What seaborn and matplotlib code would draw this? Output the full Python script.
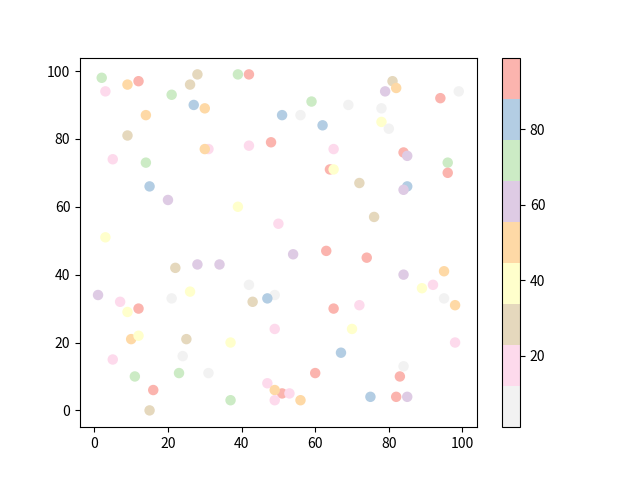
import matplotlib
matplotlib.use("Agg")
import matplotlib as mpl
import matplotlib.pyplot as plt
import seaborn as sns
import pandas as pd

# colour values per band of the reversed Pastel1 map (range 1..99)
GRAY, PINK, TAN, YELLOW, ORANGE, PURPLE, GREEN, BLUE, RED = 5, 17, 28, 39, 50, 61, 72, 83, 94

x_vals = [2, 3, 9, 12, 28, 26, 21, 27, 30, 14,
          9, 31, 30, 5, 14, 39, 42, 59, 69, 51,
          56, 62, 42, 48, 65, 64, 65, 81, 82, 79,
          94, 99, 78, 78, 80, 84, 85, 96, 96, 15,
          20, 3, 22, 28, 34, 1, 7, 21, 26, 39,
          50, 54, 63, 42, 49, 47, 43, 72, 85, 84,
          76, 74, 84, 95, 92, 89, 95, 98, 72, 65,
          70, 67, 84, 83, 75, 82, 85, 98, 49, 37,
          31, 60, 47, 51, 49, 53, 49, 56, 37, 9,
          12, 10, 12, 25, 24, 5, 11, 23, 16, 15]

y_vals = [98, 94, 96, 97, 99, 96, 93, 90, 89, 87,
          81, 77, 77, 74, 73, 99, 99, 91, 90, 87,
          87, 84, 78, 79, 77, 71, 71, 97, 95, 94,
          92, 94, 89, 85, 83, 76, 75, 73, 70, 66,
          62, 51, 42, 43, 43, 34, 32, 33, 35, 60,
          55, 46, 47, 37, 34, 33, 32, 67, 66, 65,
          57, 45, 40, 41, 37, 36, 33, 31, 31, 30,
          24, 17, 13, 10, 4, 4, 4, 20, 24, 20,
          11, 11, 8, 5, 6, 5, 3, 3, 3, 29,
          30, 21, 22, 21, 16, 15, 10, 11, 6, 0]

c_vals = [GREEN, PINK, ORANGE, RED, TAN, TAN, GREEN, BLUE, ORANGE, ORANGE,
          TAN, PINK, ORANGE, PINK, GREEN, GREEN, RED, GREEN, GRAY, BLUE,
          GRAY, BLUE, PINK, RED, PINK, RED, YELLOW, TAN, ORANGE, PURPLE,
          RED, 1, GRAY, YELLOW, GRAY, RED, PURPLE, GREEN, 99, BLUE,
          PURPLE, YELLOW, TAN, PURPLE, PURPLE, PURPLE, PINK, GRAY, YELLOW, YELLOW,
          PINK, PURPLE, RED, GRAY, GRAY, BLUE, TAN, TAN, BLUE, PURPLE,
          TAN, RED, PURPLE, ORANGE, PINK, YELLOW, GRAY, ORANGE, PINK, RED,
          YELLOW, BLUE, GRAY, RED, BLUE, RED, PURPLE, PINK, PINK, YELLOW,
          GRAY, RED, PINK, RED, ORANGE, PINK, PINK, ORANGE, GREEN, YELLOW,
          RED, ORANGE, YELLOW, TAN, GRAY, PINK, GREEN, GREEN, RED, TAN]

plt.rcParams['font.family'] = ['Noto Sans CJK SC', 'DejaVu Sans']

df = pd.DataFrame({'x': x_vals, 'y': y_vals, 'c': c_vals})
cmap = mpl.colormaps['Pastel1_r']
norm = mpl.colors.Normalize(vmin=min(c_vals), vmax=max(c_vals))

fig, ax = plt.subplots(figsize=(6.4, 4.8), dpi=100)
sns.scatterplot(data=df, x='x', y='y', hue='c', palette=cmap, hue_norm=norm,
                s=36, edgecolor='face', linewidth=1.5, legend=False, ax=ax)
ax.set_xlabel('')
ax.set_ylabel('')

sm = mpl.cm.ScalarMappable(norm=norm, cmap=cmap)
fig.colorbar(sm, ax=ax)

plt.savefig('out.png')
